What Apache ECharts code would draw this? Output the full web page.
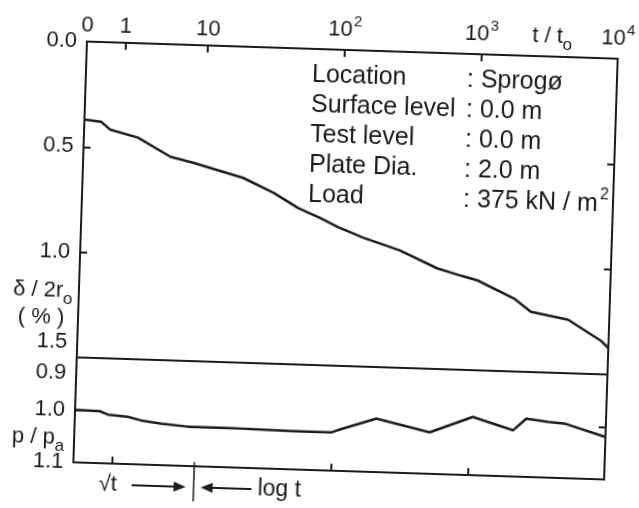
<!DOCTYPE html>
<html>
<head>
<meta charset="utf-8">
<script src="https://cdn.jsdelivr.net/npm/echarts@6/dist/echarts.min.js"></script>
<style>
  html, body { margin: 0; padding: 0; background: #fff; overflow: hidden; }
  /* the original is a slightly tilted scan */
  #chart { width: 639px; height: 508px; transform: rotate(1.85deg); transform-origin: 345px 261px; }
</style>
</head>
<body>
<div id="chart"></div>
<script>
// settlement δ/2r_o (%) against t/t_o, top panel
const settleTime = [0, 0.19, 0.46, 2.0, 5.2, 8.3, 19.5, 33, 50, 73, 98, 150, 283, 540, 800, 1070, 1990, 2660, 5000, 8800, 10000]
const settleRatio = [0.370, 0.378, 0.414, 0.448, 0.534, 0.559, 0.623, 0.690, 0.758, 0.802, 0.841, 0.887, 0.943, 1.023, 1.053, 1.074, 1.154, 1.214, 1.246, 1.341, 1.374]

// p/p_a against t/t_o, lower panel
const pressTime = [0, 0.41, 0.75, 1.9, 3.0, 5.1, 8.8, 17, 53, 99, 117, 209, 517, 1060, 2100, 2610, 3770, 4990, 10000]
const pressRatio = [1.000, 1.001, 1.007, 1.010, 1.016, 1.021, 1.025, 1.025, 1.027, 1.027, 1.020, 0.998, 1.021, 0.989, 1.012, 0.989, 0.994, 0.996, 1.019]

// top axis labels
const topLabelTimes = [0, 1, 10, 100, 1000, 10000]
const topLabelTexts = ["0", "1", "10", "{n|10}{s|2}", "{n|10}{s|3}", "{n|10}{s|4}"]
const topTickTimes = [1, 10, 100, 1000]
const bottomTickTimes = [1, 100, 1000]

const settleTicks = [0, 0.5, 1.0, 1.5]
const pressTicks = [0.9, 1.0, 1.1]

const infoLabels = ["Location", "Surface level", "Test level", "Plate Dia.", "Load"]
const infoValues = ["Sprogø", "0.0 m", "0.0 m", "2.0 m", "{n|375 kN / m}{s|2}"]

const FONT = '"Liberation Sans", Arial, sans-serif'
const INK = "#1b1b1b"

/**
 * √t scale up to t = 10, then log t.
 * the √t part takes 0.885 of one decade on the original.
 */
const SQRT_SHARE = 0.885
function toAxis(t) {
    if (t <= 10) {
        return SQRT_SHARE * Math.sqrt(t / 10)
    }
    return SQRT_SHARE + Math.log10(t / 10)
}
const X_MAX = toAxis(10000)

const chart = echarts.init(document.getElementById("chart"))

const labelBase = { color: INK, fontFamily: FONT, fontSize: 22 }

function edgeAxis(gridIndex, position, extra) {
    return Object.assign(
        {
            gridIndex,
            position,
            type: "value",
            axisLine: { show: false },
            splitLine: { show: false },
            axisTick: { show: false },
            axisLabel: { show: false },
        },
        extra
    )
}

const tickStyle = { show: true, inside: true, length: 7, lineStyle: { color: INK, width: 2 } }

const option = {
    animation: false,
    backgroundColor: "#fff",
    grid: [
        { left: 80, top: 50, width: 531, height: 316, show: true, borderColor: INK, borderWidth: 2 },
        { left: 80, top: 366, width: 531, height: 105, show: true, borderColor: INK, borderWidth: 2 },
    ],
    xAxis: [
        edgeAxis(0, "top", {
            min: 0,
            max: X_MAX,
            axisTick: Object.assign({ customValues: topTickTimes.map(toAxis) }, tickStyle),
            axisLabel: Object.assign({}, labelBase, {
                show: true,
                margin: 5,
                customValues: topLabelTimes.map(toAxis),
                formatter: value => {
                    const i = topLabelTimes.findIndex(t => Math.abs(toAxis(t) - value) < 1e-6)
                    return i < 0 ? "" : topLabelTexts[i]
                },
                rich: {
                    n: { fontFamily: FONT, fontSize: 22, color: INK },
                    s: { fontFamily: FONT, fontSize: 15, color: INK, padding: [0, 0, 16, 1] },
                },
            }),
        }),
        edgeAxis(1, "bottom", {
            min: 0,
            max: X_MAX,
            axisTick: Object.assign({ customValues: bottomTickTimes.map(toAxis) }, tickStyle),
        }),
    ],
    yAxis: [
        edgeAxis(0, "left", {
            inverse: true,
            min: 0,
            max: 1.5,
            axisTick: Object.assign({ customValues: [0.5, 1.0] }, tickStyle),
            axisLabel: Object.assign({}, labelBase, {
                show: true,
                margin: 10,
                customValues: settleTicks,
                formatter: value => (value === 1.5 ? "{up|1.5}" : value.toFixed(1)),
                rich: { up: { fontFamily: FONT, fontSize: 22, color: INK, padding: [0, 0, 30, 0] } },
            }),
        }),
        edgeAxis(0, "right", {
            inverse: true,
            min: 0,
            max: 1.5,
            axisTick: Object.assign({ customValues: [0.5, 1.0] }, tickStyle),
        }),
        edgeAxis(1, "left", {
            inverse: true,
            min: 0.9,
            max: 1.1,
            axisTick: Object.assign({ customValues: [1.0] }, tickStyle),
            axisLabel: Object.assign({}, labelBase, {
                show: true,
                margin: 10,
                customValues: pressTicks,
                formatter: value => (Math.abs(value - 0.9) < 1e-6 ? "{down|0.9}" : value.toFixed(1)),
                rich: { down: { fontFamily: FONT, fontSize: 22, color: INK, padding: [32, 0, 0, 0] } },
            }),
        }),
        edgeAxis(1, "right", {
            inverse: true,
            min: 0.9,
            max: 1.1,
            axisTick: Object.assign({ customValues: [1.0] }, tickStyle),
        }),
    ],
    series: [
        {
            name: "settlement",
            type: "line",
            xAxisIndex: 0,
            yAxisIndex: 0,
            showSymbol: false,
            data: settleTime.map((t, i) => [toAxis(t), settleRatio[i]]),
            lineStyle: { color: INK, width: 2.5 },
        },
        {
            name: "pressure",
            type: "line",
            xAxisIndex: 1,
            yAxisIndex: 2,
            showSymbol: false,
            data: pressTime.map((t, i) => [toAxis(t), pressRatio[i]]),
            lineStyle: { color: INK, width: 2.5 },
        },
    ],
}

chart.setOption(option)

// text and marks outside the plotting area
const textStyle = (text, extra) =>
    Object.assign({ text, fill: INK, fontFamily: FONT, fontSize: 25, verticalAlign: "middle" }, extra)

const graphic = []

infoLabels.forEach((label, i) => {
    const y = 76 + i * 30
    graphic.push({ type: "text", x: 306, y, style: textStyle(label) })
    graphic.push({
        type: "text",
        x: 461,
        y,
        style: textStyle(": " + infoValues[i], {
            rich: {
                n: { fontFamily: FONT, fontSize: 25, fill: INK },
                s: { fontFamily: FONT, fontSize: 16, fill: INK, padding: [0, 0, 18, 2] },
            },
        }),
    })
})

const subRich = {
    a: { fontFamily: FONT, fontSize: 22, fill: INK },
    o: { fontFamily: FONT, fontSize: 17, fill: INK, padding: [16, 0, 0, 0] },
}
graphic.push({ type: "text", x: 545, y: 30, style: textStyle("{a|t / t}{o|o}", { align: "center", rich: subRich }) })
graphic.push({ type: "text", x: 44, y: 300, style: textStyle("{a|δ / 2r}{o|o}", { align: "center", rich: subRich }) })
graphic.push({ type: "text", x: 43, y: 327, style: textStyle("( % )", { align: "center", fontSize: 22 }) })
graphic.push({ type: "text", x: 44, y: 447, style: textStyle("{a|p / p}{o|a}", { align: "center", rich: subRich }) })

// √t → | ← log t under the lower panel
const splitX = chart.convertToPixel({ xAxisIndex: 1 }, toAxis(10))
const arrowY = 492
graphic.push({ type: "text", x: splitX - 95, y: arrowY, style: textStyle("√t", { fontSize: 22 }) })
graphic.push({ type: "line", shape: { x1: splitX - 62, y1: arrowY, x2: splitX - 18, y2: arrowY }, style: { stroke: INK, lineWidth: 2 } })
graphic.push({
    type: "polygon",
    shape: { points: [[splitX - 8, arrowY], [splitX - 20, arrowY - 5], [splitX - 20, arrowY + 5]] },
    style: { fill: INK },
})
graphic.push({ type: "line", shape: { x1: splitX, y1: 467, x2: splitX, y2: 506 }, style: { stroke: INK, lineWidth: 1.5 } })
graphic.push({
    type: "polygon",
    shape: { points: [[splitX + 7, arrowY], [splitX + 19, arrowY - 5], [splitX + 19, arrowY + 5]] },
    style: { fill: INK },
})
graphic.push({ type: "line", shape: { x1: splitX + 17, y1: arrowY, x2: splitX + 58, y2: arrowY }, style: { stroke: INK, lineWidth: 2 } })
graphic.push({ type: "text", x: splitX + 64, y: arrowY, style: textStyle("log t", { fontSize: 23 }) })

chart.setOption({ graphic })
</script>
</body>
</html>
